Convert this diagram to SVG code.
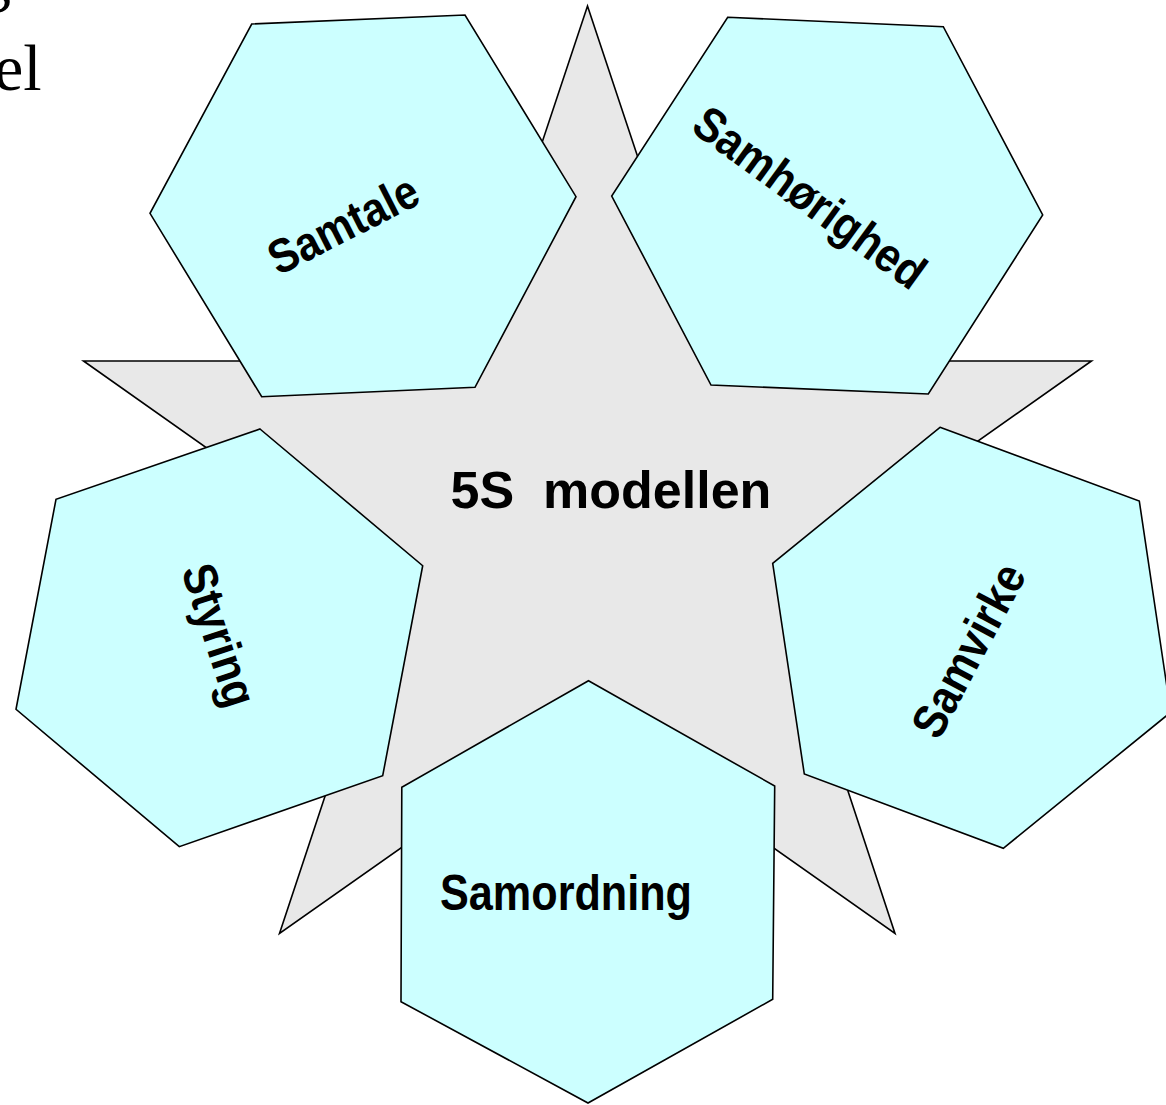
<svg xmlns="http://www.w3.org/2000/svg" width="1166" height="1105" viewBox="0 0 1166 1105">
<style>
.hex{fill:#ccffff;stroke:#000;stroke-width:1.6;stroke-linejoin:miter}
.star{fill:#e8e8e8;stroke:#000;stroke-width:1.6}
.lbl{font-family:"Liberation Sans",Arial,sans-serif;font-weight:bold;font-size:48px;fill:#000;text-anchor:middle}
.title{font-family:"Liberation Serif","Times New Roman",serif;font-size:66px;fill:#000}
</style>
<rect width="1166" height="1105" fill="#fff"/>
<g id="page-text">
<text class="title" x="-22" y="-1">g</text>
<text class="title" x="-6" y="90">el</text>
</g>
<g id="star">
<polygon class="star" points="587.5,6 705.7,361 1091.5,361 778.8,581.6 895,933.5 587.5,716.6 279.5,933.5 396.2,581.6 83.5,361 469.3,361"/>
<text class="lbl" x="611" y="508" style="font-size:52px;white-space:pre">5S  modellen</text>
</g>
<g id="connectors"></g>
<g id="node-samtale">
<polygon class="hex" points="251.7,24 465,15 576,196.7 475,387.3 261.7,396.7 150,213.3"/>
<text class="lbl" transform="translate(343,224) rotate(-27)" x="0" y="17" textLength="162" lengthAdjust="spacingAndGlyphs">Samtale</text>
</g>
<g id="node-samhorighed">
<polygon class="hex" points="727.7,17.3 943.3,26.7 1042.7,215 928.3,394 711,385 611.7,196"/>
<text class="lbl" transform="translate(810,197) rotate(36)" x="0" y="17" textLength="274" lengthAdjust="spacingAndGlyphs">Samhørighed</text>
</g>
<g id="node-styring">
<polygon class="hex" points="260,429 422.7,565.7 382.7,775.7 179.3,846.7 16,709.3 56,499.3"/>
<text class="lbl" transform="translate(220,635) rotate(72)" x="0" y="17" textLength="147" lengthAdjust="spacingAndGlyphs">Styring</text>
</g>
<g id="node-samvirke">
<polygon class="hex" points="940,427.3 1139.3,501 1170.7,712.3 1003.3,848.3 804.3,774 772.7,563.3"/>
<text class="lbl" transform="translate(968,650) rotate(-62)" x="0" y="17" textLength="189" lengthAdjust="spacingAndGlyphs">Samvirke</text>
</g>
<g id="node-samordning">
<polygon class="hex" points="588.5,680.7 774.7,786 772.7,999.3 588,1103 401,1001.7 401.8,787.3"/>
<text class="lbl" x="440" y="910" style="text-anchor:start;font-size:50px" textLength="252" lengthAdjust="spacingAndGlyphs">Samordning</text>
</g>
</svg>
